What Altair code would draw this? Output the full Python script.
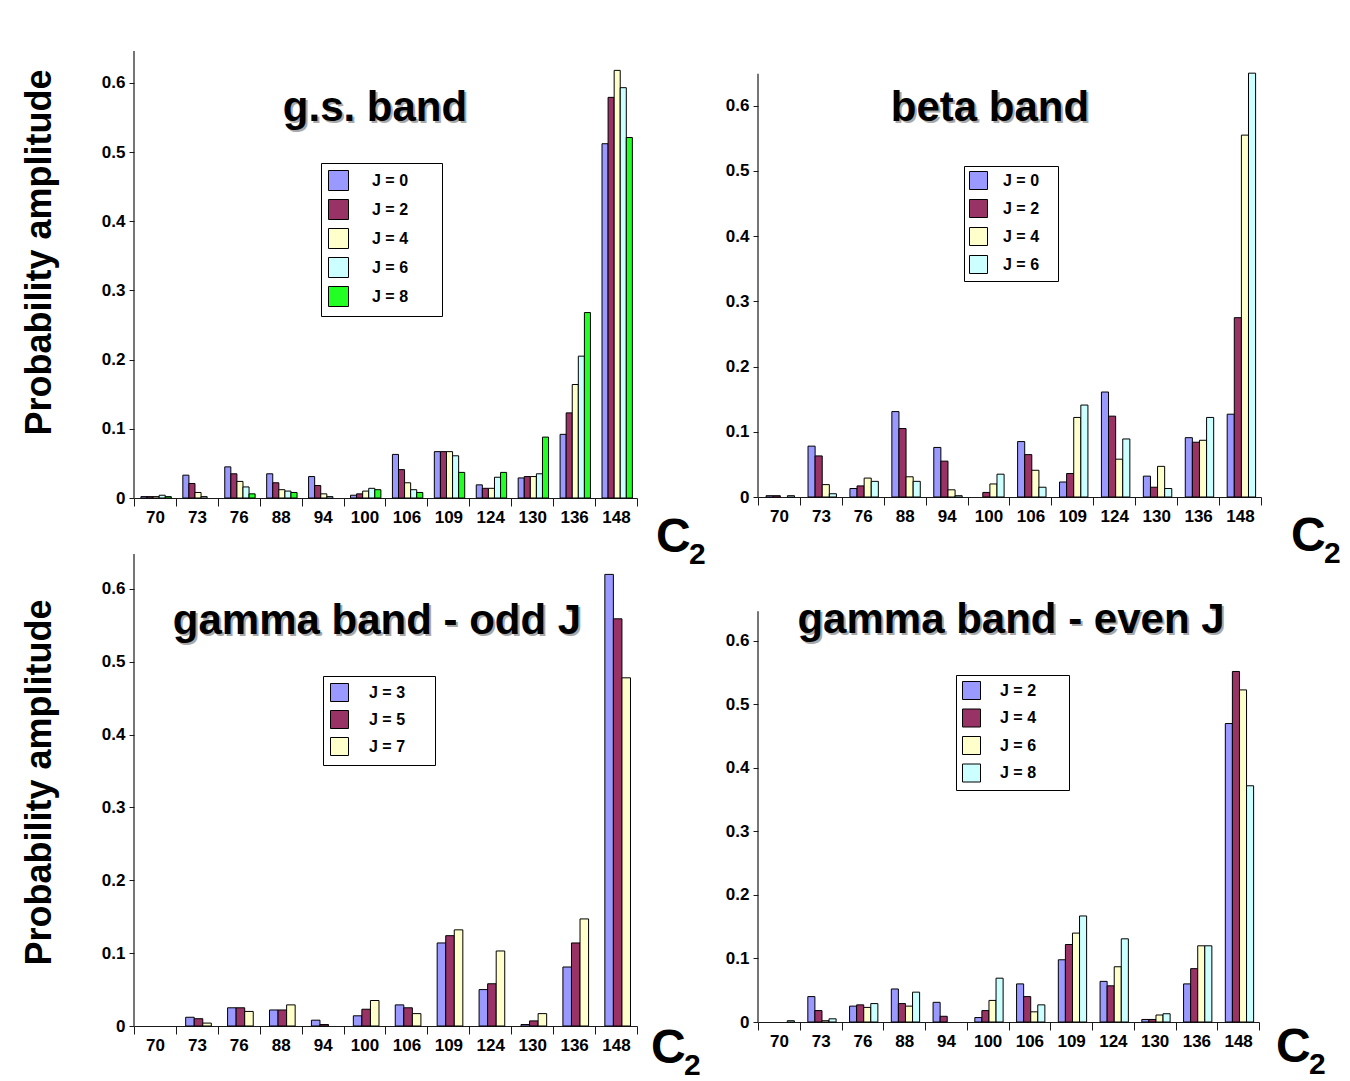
import altair as alt
import pandas as pd

# ---------------- data ----------------
cats = ["70", "73", "76", "88", "94", "100", "106", "109", "124", "130", "136", "148"]

gs_labels = ["J = 0", "J = 2", "J = 4", "J = 6", "J = 8"]
gs_J0 = [0.002, 0.033, 0.045, 0.035, 0.031, 0.004, 0.063, 0.067, 0.019, 0.029, 0.092, 0.512]
gs_J2 = [0.002, 0.021, 0.035, 0.022, 0.018, 0.006, 0.041, 0.067, 0.014, 0.031, 0.123, 0.579]
gs_J4 = [0.002, 0.008, 0.024, 0.012, 0.006, 0.010, 0.022, 0.067, 0.014, 0.031, 0.164, 0.618]
gs_J6 = [0.004, 0.002, 0.016, 0.010, 0.002, 0.014, 0.012, 0.061, 0.030, 0.035, 0.205, 0.593]
gs_J8 = [0.002, 0.000, 0.006, 0.008, 0.000, 0.012, 0.008, 0.037, 0.037, 0.088, 0.268, 0.521]

beta_labels = ["J = 0", "J = 2", "J = 4", "J = 6"]
beta_J0 = [0.002, 0.078, 0.013, 0.131, 0.076, 0.000, 0.085, 0.023, 0.161, 0.032, 0.091, 0.127]
beta_J2 = [0.002, 0.063, 0.017, 0.105, 0.055, 0.007, 0.065, 0.036, 0.124, 0.015, 0.084, 0.275]
beta_J4 = [0.000, 0.019, 0.029, 0.031, 0.011, 0.020, 0.041, 0.122, 0.058, 0.047, 0.087, 0.555]
beta_J6 = [0.002, 0.005, 0.024, 0.024, 0.002, 0.035, 0.015, 0.141, 0.089, 0.013, 0.122, 0.650]

odd_labels = ["J = 3", "J = 5", "J = 7"]
odd_J3 = [0.000, 0.012, 0.025, 0.022, 0.008, 0.014, 0.029, 0.114, 0.050, 0.002, 0.081, 0.620]
odd_J5 = [0.000, 0.010, 0.025, 0.022, 0.002, 0.023, 0.025, 0.124, 0.058, 0.007, 0.114, 0.559]
odd_J7 = [0.000, 0.004, 0.020, 0.029, 0.000, 0.035, 0.017, 0.132, 0.103, 0.017, 0.147, 0.478]

even_labels = ["J = 2", "J = 4", "J = 6", "J = 8"]
even_J2 = [0.000, 0.040, 0.025, 0.052, 0.031, 0.007, 0.060, 0.098, 0.064, 0.004, 0.060, 0.470]
even_J4 = [0.000, 0.018, 0.027, 0.029, 0.009, 0.018, 0.040, 0.122, 0.057, 0.004, 0.084, 0.552]
even_J6 = [0.000, 0.002, 0.023, 0.025, 0.000, 0.034, 0.016, 0.140, 0.087, 0.011, 0.120, 0.523]
even_J8 = [0.002, 0.005, 0.029, 0.047, 0.000, 0.069, 0.027, 0.167, 0.131, 0.013, 0.120, 0.372]

panel_titles = ["g.s. band", "beta band", "gamma band - odd J", "gamma band - even J"]
y_title = "Probability amplitude"
y_ticks = [0, 0.1, 0.2, 0.3, 0.4, 0.5, 0.6]
palette = ["#9999ff", "#993366", "#ffffcc", "#ccffff", "#22ff22"]

FONT = "Liberation Sans, Arial, Helvetica, sans-serif"
INK = "#1a1a1a"


def panel(series, labels, title, w, h, ymax, ytop, tx, ty, leg, cxy, ytitle_y=None):
    rows = []
    for lab, vals in zip(labels, series):
        for c, v in zip(cats, vals):
            if v > 0:
                rows.append({"C2": c, "J": lab, "v": v})
    df = pd.DataFrame(rows)

    yaxis_kw = dict(
        values=y_ticks, domain=False, grid=False, tickSize=5, tickColor=INK,
        labelExpr="datum.value == 0 ? '0' : format(datum.value, '.1f')",
        labelFont=FONT, labelFontSize=17, labelFontWeight="bold", labelColor="black",
        labelPadding=4,
    )
    if ytitle_y is not None:
        yaxis_kw.update(
            title=y_title, titleFont=FONT, titleFontSize=36, titleFontWeight="bold",
            titleColor="black", titleX=-95, titleY=ytitle_y, titleAngle=270,
            titleAlign="center", titleBaseline="middle",
        )
    else:
        yaxis_kw.update(title=None)

    lx, ly, lpad, lrow, lsym, loff, nb = leg
    pad_expr = "datum.label + '" + "\u00a0" * nb + "\u200b'"
    bars = alt.Chart(df).mark_bar(stroke="black", strokeWidth=1).encode(
        x=alt.X("C2:N", sort=cats,
                scale=alt.Scale(domain=cats, paddingInner=0, paddingOuter=0),
                axis=alt.Axis(title=None, tickBand="extent", labelAngle=0, grid=False,
                              tickSize=8, tickColor=INK, domainColor=INK, domainWidth=1.2,
                              labelFont=FONT, labelFontSize=17, labelFontWeight="bold",
                              labelColor="black", labelPadding=3)),
        xOffset=alt.XOffset("J:N", sort=labels,
                            scale=alt.Scale(domain=labels, paddingInner=0,
                                            paddingOuter=0.95, align=0.6)),
        y=alt.Y("v:Q", scale=alt.Scale(domain=[0, ymax], nice=False, zero=True),
                axis=alt.Axis(**yaxis_kw)),
        color=alt.Color("J:N", sort=labels,
                        scale=alt.Scale(domain=labels, range=palette[:len(labels)]),
                        legend=alt.Legend(
                            orient="none", legendX=lx, legendY=ly, title=None,
                            symbolType="square", symbolSize=lsym * lsym,
                            symbolStrokeColor="black", symbolStrokeWidth=1, symbolOpacity=1,
                            labelFont=FONT, labelFontSize=16, labelFontWeight="bold",
                            labelColor="black", labelOffset=loff, rowPadding=lrow,
                            padding=lpad, strokeColor="black", fillColor="white",
                            labelExpr=pad_expr)),
    )

    axis_line = alt.Chart(pd.DataFrame({"k": [0]})).mark_rule(
        color=INK, strokeWidth=1.2).encode(
        x=alt.value(0), y=alt.datum(0), y2=alt.datum(ytop))

    tdf = pd.DataFrame({"t": [title]})
    shadow = alt.Chart(tdf).mark_text(
        font=FONT, fontSize=42, fontWeight="bold", align="center",
        baseline="alphabetic", color="#a8a8a8", dx=2, dy=2).encode(
        x=alt.value(tx), y=alt.value(ty), text="t:N")
    ttl = alt.Chart(tdf).mark_text(
        font=FONT, fontSize=42, fontWeight="bold", align="center",
        baseline="alphabetic", color="black").encode(
        x=alt.value(tx), y=alt.value(ty), text="t:N")

    cx, cy = cxy
    c_txt = alt.Chart(pd.DataFrame({"t": ["C"]})).mark_text(
        font=FONT, fontSize=48, fontWeight="bold", align="left",
        baseline="alphabetic", color="black").encode(
        x=alt.value(w + cx), y=alt.value(h + cy), text="t:N")
    sub_txt = alt.Chart(pd.DataFrame({"t": ["2"]})).mark_text(
        font=FONT, fontSize=30, fontWeight="bold", align="left",
        baseline="alphabetic", color="black").encode(
        x=alt.value(w + cx + 33), y=alt.value(h + cy + 12), text="t:N")

    return alt.layer(bars, axis_line, shadow, ttl, c_txt, sub_txt).properties(
        width=w, height=h)


p1 = panel([gs_J0, gs_J2, gs_J4, gs_J6, gs_J8], gs_labels, panel_titles[0],
           503, 447, 0.646, 0.646, 241, 70, (187, 112, 7, 4, 20, 23, 6), (19, 54),
           ytitle_y=201)
p2 = panel([beta_J0, beta_J2, beta_J4, beta_J6], beta_labels, panel_titles[1],
           503, 446, 0.684, 0.649, 232, 70, (206, 115, 5, 5, 18, 15, 3), (30, 54))
p3 = panel([odd_J3, odd_J5, odd_J7], odd_labels, panel_titles[2],
           503, 472, 0.648, 0.648, 243, 80, (189, 122, 7, 4, 18, 20, 5), (14, 37),
           ytitle_y=228)
p4 = panel([even_J2, even_J4, even_J6, even_J8], even_labels, panel_titles[3],
           501, 468, 0.737, 0.647, 253, 79, (198, 121, 6, 4.5, 18, 19, 6), (17, 40))

chart = alt.concat(
    p1, p2, p3, p4, columns=2, bounds="flush",
    spacing=alt.RowColnumber(row=56, column=121),
).resolve_scale(
    x="independent", y="independent", color="independent", xOffset="independent"
).resolve_legend(color="independent").properties(
    padding={"left": 20, "top": 50, "right": 5, "bottom": 0},
    background="white",
).configure_view(stroke=None)

chart.save("out.html", embed_options={"renderer": "svg", "actions": False})
